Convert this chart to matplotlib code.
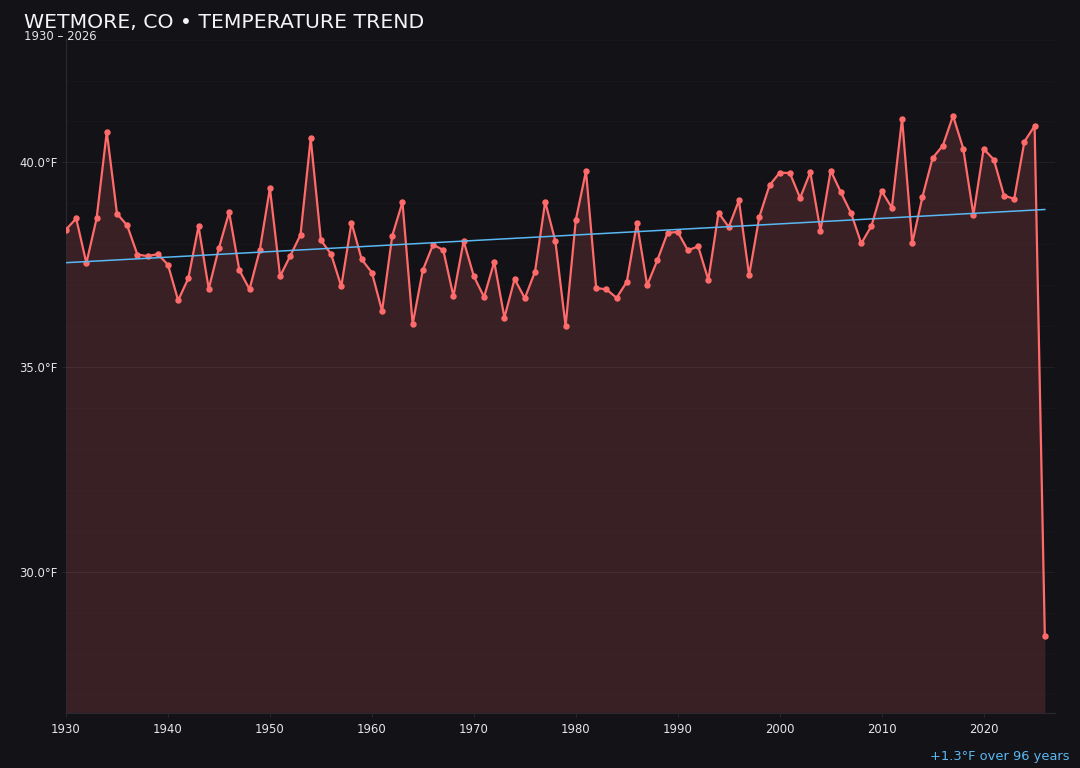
import matplotlib
matplotlib.use("Agg")
import matplotlib.pyplot as plt
from matplotlib.ticker import MultipleLocator, FuncFormatter

years = list(range(1930, 2027))
temps = [
    38.36, 38.63, 37.54, 38.63, 40.75, 38.75, 38.46, 37.75, 37.71, 37.76,  # 1930s
    37.50, 36.63, 37.17, 38.44, 36.91, 37.91, 38.78, 37.37, 36.90, 37.85,  # 1940s
    39.37, 37.22, 37.72, 38.23, 40.59, 38.10, 37.76, 36.97, 38.53, 37.63,  # 1950s
    37.31, 36.37, 38.21, 39.03, 36.05, 37.37, 37.99, 37.86, 36.73, 38.08,  # 1960s
    37.22, 36.71, 37.57, 36.21, 37.15, 36.68, 37.33, 39.04, 38.07, 36.00,  # 1970s
    38.59, 39.79, 36.93, 36.90, 36.69, 37.08, 38.52, 37.00, 37.61, 38.28,  # 1980s
    38.30, 37.85, 37.95, 37.13, 38.77, 38.42, 39.07, 37.24, 38.67, 39.44,  # 1990s
    39.75, 39.74, 39.13, 39.76, 38.33, 39.80, 39.27, 38.76, 38.02, 38.45,  # 2000s
    39.30, 38.89, 41.07, 38.03, 39.16, 40.11, 40.41, 41.14, 40.34, 38.72,  # 2010s
    40.33, 40.07, 39.19, 39.11, 40.51, 40.89, 28.44,                       # 2020s
]
trend_years = [1930, 2026]
trend_vals = [37.55, 38.85]

title = "WETMORE, CO \u2022 TEMPERATURE TREND"
subtitle = "1930 \u2013 2026"
footer = "+1.3\u00b0F over 96 years"

BG = "#131217"
RED = "#ff6b6b"
BLUE = "#5ab8f2"
TXT = "#e6e6ea"

plt.rcParams['font.family'] = ['DejaVu Sans']
fig = plt.figure(figsize=(10.8, 7.68), dpi=100, facecolor=BG)
ax = fig.add_axes([66/1080, 1 - 713.3/768, (1055 - 66)/1080, (713.3 - 38)/768])
ax.set_facecolor(BG)

ymin, ymax = 26.54, 43.04
ax.set_xlim(1930, 2027)
ax.set_ylim(ymin, ymax)

ax.fill_between(years, temps, ymin, color="#ff6b6b", alpha=0.16, linewidth=0, zorder=1)
ax.plot(years, temps, color=RED, linewidth=1.6, marker="o", markersize=3.6, zorder=3)
ax.plot(trend_years, trend_vals, color=BLUE, linewidth=1.1, zorder=4)

ax.yaxis.set_major_locator(MultipleLocator(5))
ax.yaxis.set_minor_locator(MultipleLocator(1))
ax.xaxis.set_major_locator(MultipleLocator(10))
ax.yaxis.set_major_formatter(FuncFormatter(lambda v, p: f"{v:.1f}\u00b0F"))
ax.grid(True, which="major", axis="y", color="white", alpha=0.06, linewidth=0.8, zorder=2)
ax.grid(True, which="minor", axis="y", color="white", alpha=0.025, linewidth=0.6, zorder=2)
ax.set_axisbelow(False)

for s in ["top", "right"]:
    ax.spines[s].set_visible(False)
for s in ["left", "bottom"]:
    ax.spines[s].set_color("#2a2930")
    ax.spines[s].set_linewidth(0.8)

ax.tick_params(axis="both", which="major", colors="#2a2930", labelcolor=TXT,
               labelsize=8.4, length=3, width=0.6)
ax.tick_params(axis="y", which="minor", length=0)
ax.tick_params(axis="x", pad=4)
ax.tick_params(axis="y", pad=3)

fig.text(24/1080, 1 - 27.5/768, title, color="#f4f4f6", fontsize=14.7, ha="left", va="baseline")
fig.text(24/1080, 1 - 39.5/768, subtitle, color=TXT, fontsize=8.4, ha="left", va="baseline")
fig.text(1069/1080, 1 - 760/768, footer, color=BLUE, fontsize=9.4, ha="right", va="baseline")

fig.savefig("out.png", dpi=100, facecolor=BG)
